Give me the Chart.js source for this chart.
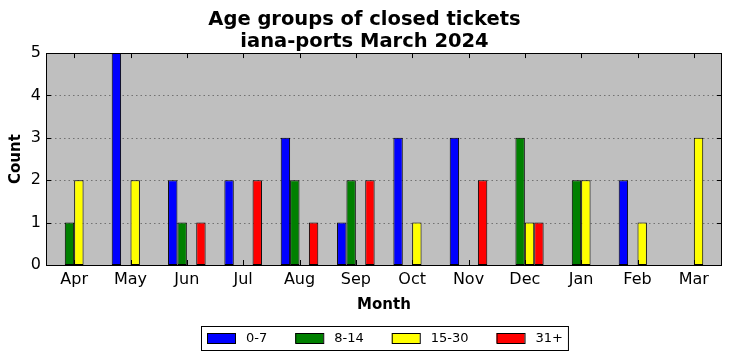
<!DOCTYPE html>
<html>
<head>
<meta charset="utf-8">
<script src="https://cdn.jsdelivr.net/npm/chart.js@4"></script>
<style>
    body { margin: 0; background: #ffffff; }
    #wrap { width: 732px; height: 361px; }
</style>
</head>
<body>
<div id="wrap"><canvas id="myChart" width="732" height="361"></canvas></div>
<script>
const months = ["Apr", "May", "Jun", "Jul", "Aug", "Sep", "Oct", "Nov", "Dec", "Jan", "Feb", "Mar"];
const age0to7 = [0, 5, 2, 2, 3, 1, 3, 3, 0, 0, 2, 0];
const age8to14 = [1, 0, 1, 0, 2, 2, 0, 0, 3, 2, 0, 0];
const age15to30 = [2, 2, 0, 0, 0, 0, 1, 0, 1, 2, 1, 3];
const age31plus = [0, 0, 1, 2, 1, 2, 0, 2, 1, 0, 0, 0];
const yTicks = [0, 1, 2, 3, 4, 5];

const FONT = "'DejaVu Sans', sans-serif";

function makeSet(label, values, color) {
    return {
        label: label,
        data: values,
        backgroundColor: color,
        borderColor: "#000000",
        borderWidth: (c) => (c.raw === 0 ? 0 : 1),
        borderSkipped: false,
        barPercentage: 1.0,
        categoryPercentage: 0.667,
    };
}

// matplotlib style legend with a frame, drawn below the x axis title
function drawLegend(chart) {
    const ctx = chart.ctx;
    const a = chart.chartArea;
    const sets = chart.data.datasets;
    ctx.save();
    ctx.font = "13px " + FONT;
    ctx.textBaseline = "middle";
    ctx.textAlign = "left";

    const boxW = 28, boxH = 10, textGap = 11, itemGap = 28, pad = 5;
    let total = 0;
    sets.forEach((ds, i) => {
        total += boxW + textGap + ctx.measureText(ds.label).width;
        if (i < sets.length - 1) total += itemGap;
    });
    const frameW = total + pad * 2 + 1;
    const frameH = 24;
    const left = Math.round((a.left + a.right) / 2 - frameW / 2);
    const top = 326;
    const cy = top + frameH / 2;

    ctx.fillStyle = "#ffffff";
    ctx.fillRect(left, top, frameW, frameH);
    ctx.strokeStyle = "#000000";
    ctx.lineWidth = 1;
    ctx.strokeRect(left + 0.5, top + 0.5, frameW, frameH);

    let x = left + pad + 1;
    sets.forEach((ds) => {
        ctx.fillStyle = ds.backgroundColor;
        ctx.fillRect(x, Math.round(cy - boxH / 2), boxW, boxH);
        ctx.strokeRect(x + 0.5, Math.round(cy - boxH / 2) + 0.5, boxW, boxH);
        ctx.fillStyle = "#000000";
        ctx.fillText(ds.label, x + boxW + textGap, cy + 1);
        x += boxW + textGap + ctx.measureText(ds.label).width + itemGap;
    });
    ctx.restore();
}

// grey plot background, black frame, inward ticks like matplotlib classic
const framePlugin = {
    id: "frame",
    beforeDatasetsDraw(chart) {
        const a = chart.chartArea;
        const ctx = chart.ctx;
        ctx.save();
        ctx.fillStyle = "#bfbfbf";
        ctx.fillRect(a.left, a.top, a.right - a.left, a.bottom - a.top);

        const y = chart.scales.y;
        ctx.strokeStyle = "rgba(0,0,0,0.4)";
        ctx.lineWidth = 1;
        ctx.setLineDash([1.5, 3]);
        yTicks.forEach((v) => {
            if (v === 0 || v === 5) return;
            const py = Math.round(y.getPixelForValue(v)) + 0.5;
            ctx.beginPath();
            ctx.moveTo(a.left, py);
            ctx.lineTo(a.right, py);
            ctx.stroke();
        });
        ctx.restore();
    },
    afterDatasetsDraw(chart) {
        const a = chart.chartArea;
        const ctx = chart.ctx;
        const x = chart.scales.x;
        const y = chart.scales.y;
        ctx.save();
        ctx.strokeStyle = "#000000";
        ctx.lineWidth = 1;
        ctx.beginPath();
        months.forEach((m, i) => {
            const px = Math.round(x.getPixelForValue(i)) + 0.5;
            ctx.moveTo(px, a.top);
            ctx.lineTo(px, a.top + 5);
            ctx.moveTo(px, a.bottom);
            ctx.lineTo(px, a.bottom - 5);
        });
        yTicks.forEach((v) => {
            const py = Math.round(y.getPixelForValue(v)) + 0.5;
            ctx.moveTo(a.left, py);
            ctx.lineTo(a.left + 5, py);
            ctx.moveTo(a.right, py);
            ctx.lineTo(a.right - 5, py);
        });
        ctx.stroke();
        ctx.strokeRect(Math.round(a.left) + 0.5, Math.round(a.top) + 0.5,
            Math.round(a.right - a.left) - 1, Math.round(a.bottom - a.top));
        ctx.restore();
    },
    afterDraw(chart) {
        drawLegend(chart);
    }
};

const ctx = document.getElementById("myChart");

const chart = new Chart(ctx, {
    type: "bar",
    data: {
        labels: months,
        datasets: [
            makeSet("0-7", age0to7, "#0000ff"),
            makeSet("8-14", age8to14, "#008000"),
            makeSet("15-30", age15to30, "#ffff00"),
            makeSet("31+", age31plus, "#ff0000"),
        ]
    },
    options: {
        responsive: false,
        animation: false,
        layout: { padding: { left: 7, right: 10, top: 0, bottom: 43 } },
        plugins: {
            title: {
                display: true,
                text: ["Age groups of closed tickets", "iana-ports March 2024"],
                color: "#000000",
                font: { family: FONT, size: 19.5, weight: "bold", lineHeight: 1.13 },
                padding: { top: 9, bottom: 0 },
            },
            legend: { display: false },
            tooltip: { enabled: false },
        },
        scales: {
            x: {
                grid: { display: false, drawTicks: false },
                border: { display: false },
                ticks: { color: "#000000", font: { family: FONT, size: 16 }, padding: 5, maxRotation: 0 },
                title: { display: true, text: "Month", color: "#000000", font: { family: FONT, size: 15, weight: "bold" }, padding: { top: 2, bottom: 4 } },
                afterFit(scale) { scale.height = 53; },
            },
            y: {
                min: 0,
                max: 5,
                grid: { display: false, drawTicks: false },
                border: { display: false },
                ticks: { stepSize: 1, color: "#000000", font: { family: FONT, size: 16 }, padding: 5 },
                title: { display: true, text: "Count", color: "#000000", font: { family: FONT, size: 15, weight: "bold" }, padding: { top: 0, bottom: 4 } },
                afterFit(scale) { scale.width = 39; },
            }
        }
    },
    plugins: [framePlugin]
});
</script>
</body>
</html>
